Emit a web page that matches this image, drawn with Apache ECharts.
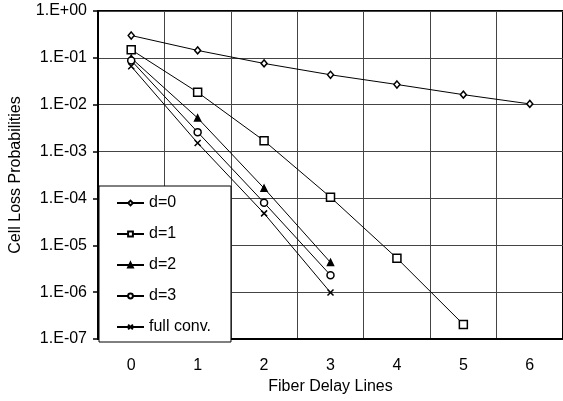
<!DOCTYPE html>
<html>
<head>
<meta charset="utf-8">
<script src="https://cdn.jsdelivr.net/npm/echarts@6/dist/echarts.min.js"></script>
<style>
  html, body { margin: 0; padding: 0; background: #fff; }
  #main { width: 563px; height: 401px; }
</style>
</head>
<body>
<div id="main"></div>
<script>
// fiber delay lines on the x axis
var delayLines = ['0', '1', '2', '3', '4', '5', '6'];
var seriesNames = ['d=0', 'd=1', 'd=2', 'd=3', 'full conv.'];

// cell loss probabilities
var d0 = [0.30, 0.144, 0.076, 0.0435, 0.027, 0.0164, 0.0104];
var d1 = [0.149, 0.0184, 0.0017, 1.06e-4, 5.3e-6, 2.05e-7];
var d2 = [0.099, 5.2e-3, 1.65e-4, 4.3e-6];
var d3 = [0.088, 2.6e-3, 8.1e-5, 2.3e-6];
var fullConv = [0.066, 1.52e-3, 4.8e-5, 9.8e-7];

var symbols = ['diamond', 'rect', 'triangle', 'circle', 'path://M0,0L10,10M10,0L0,10'];
var sizes = [[6, 7], 8, 6, 7, 6];
var fills = ['#fff', '#fff', '#000', '#fff', '#fff'];
var allData = [d0, d1, d2, d3, fullConv];

var myChart = echarts.init(document.getElementById('main'));

var fmtExp = function (v) {
    var e = Math.round(Math.log(v) / Math.LN10);
    var a = Math.abs(e);
    return '1.E' + (e < 0 ? '-' : '+') + (a < 10 ? '0' + a : a);
};

var series = [];
for (var i = 0; i < seriesNames.length; i++) {
    series.push({
        name: seriesNames[i],
        type: 'line',
        data: allData[i],
        symbol: symbols[i],
        symbolSize: sizes[i],
        showAllSymbol: true,
        lineStyle: { color: '#000', width: 1 },
        itemStyle: { color: fills[i], borderColor: '#000', borderWidth: 1.5 },
        z: 3
    });
}

var option = {
    animation: false,
    textStyle: { fontFamily: 'Liberation Sans, Arial, sans-serif' },
    grid: {
        left: 96,
        top: 11,
        width: 471,
        bottom: 62,
        show: true,
        borderColor: '#000',
        borderWidth: 2,
        backgroundColor: 'transparent'
    },
    legend: {
        orient: 'vertical',
        left: 99,
        top: 186,
        data: seriesNames,
        itemWidth: 27,
        itemHeight: 6,
        itemGap: 15,
        padding: [9, 20, 7, 17],
        backgroundColor: '#fff',
        borderColor: '#000',
        borderWidth: 1,
        borderRadius: 0,
        textStyle: { color: '#000', fontSize: 16, fontFamily: 'Liberation Sans, Arial, sans-serif' },
        z: 10
    },
    xAxis: {
        type: 'category',
        data: delayLines,
        boundaryGap: true,
        name: 'Fiber Delay Lines',
        nameLocation: 'middle',
        nameGap: 40,
        nameTextStyle: { color: '#000', fontSize: 16 },
        axisLine: { lineStyle: { color: '#000', width: 2 } },
        axisTick: { show: false },
        axisLabel: { color: '#000', fontSize: 16, margin: 19 },
        splitLine: { show: true, lineStyle: { color: '#444', width: 1 } }
    },
    yAxis: {
        type: 'log',
        logBase: 10,
        min: 1e-7,
        max: 1,
        name: 'Cell Loss Probabilities',
        nameLocation: 'middle',
        nameRotate: 90,
        nameGap: 74,
        nameTextStyle: { color: '#000', fontSize: 16 },
        axisLine: { show: true, lineStyle: { color: '#000', width: 2 } },
        axisTick: { show: true, length: 5, lineStyle: { color: '#000', width: 1.5 } },
        axisLabel: { color: '#000', fontSize: 16, margin: 11, formatter: fmtExp },
        splitLine: { show: true, lineStyle: { color: '#444', width: 1 } },
        minorTick: { show: false }
    },
    series: series
};

myChart.setOption(option);
</script>
</body>
</html>
